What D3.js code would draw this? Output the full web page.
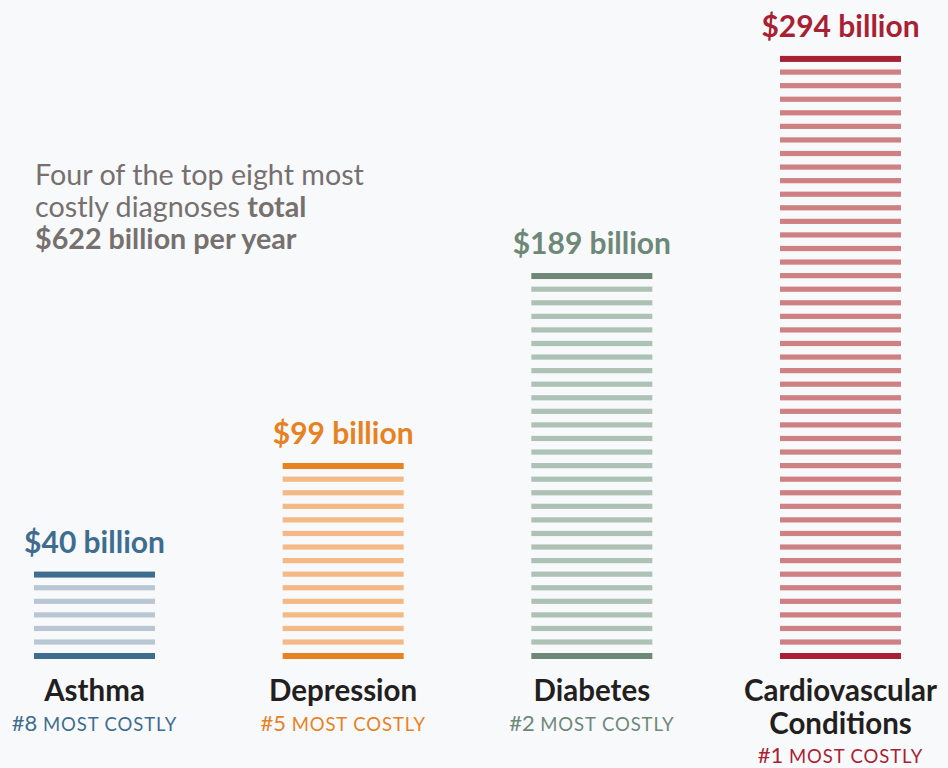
<!DOCTYPE html>
<html>
<head>
<meta charset="utf-8">
<script src="https://cdn.jsdelivr.net/npm/d3@7"></script>
<style>
  body { margin: 0; background: #f8f9fb; }
  svg { display: block; font-family: Lato, "Open Sans", sans-serif; }
</style>
</head>
<body>
<svg id="chart"></svg>
<script>
// Données
const categories = ["Asthma", "Depression", "Diabetes", "Cardiovascular Conditions"];
const values = [40, 99, 189, 294];
const ranks = ["#8", "#5", "#2", "#1"];
const darkColors = ["#3e6d8f", "#e6821f", "#6d8877", "#a91f33"];
const lightColors = ["#b9c6d4", "#f4b984", "#aec1b5", "#ce8083"];

const width = 948;
const height = 768;

const svg = d3.select("#chart")
    .attr("width", width)
    .attr("height", height);

// Échelles
const x = d3.scalePoint()
    .domain(categories)
    .range([94.5, 840.5]);

const y = d3.scaleLinear()
    .domain([0, 300])
    .range([659, 659 - 300 * 2.04]);

const barWidth = 121;
const pitch = 13.57;   // écart entre les rayures

const bars = svg.append("g")
    .selectAll("g")
    .data(categories)
    .enter().append("g")
    .attr("transform", d => `translate(${x(d) - barWidth / 2},0)`);

// Rayures
bars.each(function(d, i) {
    const n = Math.floor((y(0) - y(values[i])) / pitch);
    const stripes = d3.range(n + 1);
    d3.select(this).selectAll("rect")
        .data(stripes)
        .enter().append("rect")
        .attr("x", 0)
        .attr("width", barWidth)
        .attr("y", k => y(0) - 6 - k * pitch)
        .attr("height", k => (k === 0 || k === n) ? 6 : 5.2)
        .attr("fill", k => (k === 0 || k === n) ? darkColors[i] : lightColors[i]);

    // Valeur
    d3.select(this).append("text")
        .attr("x", barWidth / 2)
        .attr("y", y(0) - 6 - n * pitch - 19)
        .attr("text-anchor", "middle")
        .attr("font-size", "30px")
        .attr("font-weight", "bold")
        .attr("fill", darkColors[i])
        .text(`$${values[i]} billion`);
});

// Noms des catégories
const labels = svg.append("g")
    .selectAll("text")
    .data(categories)
    .enter().append("text")
    .attr("text-anchor", "middle")
    .attr("font-size", "29.5px")
    .attr("font-weight", "bold")
    .attr("fill", "#231f20");

labels.each(function(d) {
    const words = d === "Cardiovascular Conditions" ? ["Cardiovascular", "Conditions"] : [d];
    d3.select(this).selectAll("tspan")
        .data(words)
        .enter().append("tspan")
        .attr("x", x(d))
        .attr("y", (w, j) => 701 + j * 33)
        .text(w => w);
});

// Rang
svg.append("g")
    .selectAll("text")
    .data(categories)
    .enter().append("text")
    .attr("x", d => x(d))
    .attr("y", (d, i) => i === 3 ? 763 : 731)
    .attr("text-anchor", "middle")
    .attr("fill", (d, i) => darkColors[i])
    .each(function(d, i) {
        const t = d3.select(this);
        t.append("tspan").attr("font-size", "22px").text(ranks[i] + " ");
        t.append("tspan").attr("font-size", "18.5px").attr("letter-spacing", "0.9px").text("MOST COSTLY");
    });

// Annotation
const note = svg.append("text")
    .attr("x", 35)
    .attr("y", 185)
    .attr("font-size", "28.7px")
    .attr("fill", "#76706f");

note.append("tspan").attr("x", 35).attr("y", 185).text("Four of the top eight most");
note.append("tspan").attr("x", 35).attr("y", 217).text("costly diagnoses ");
note.append("tspan").attr("font-weight", "bold").text("total");
note.append("tspan").attr("x", 35).attr("y", 249).attr("font-weight", "bold").text("$622 billion per year");
</script>
</body>
</html>
